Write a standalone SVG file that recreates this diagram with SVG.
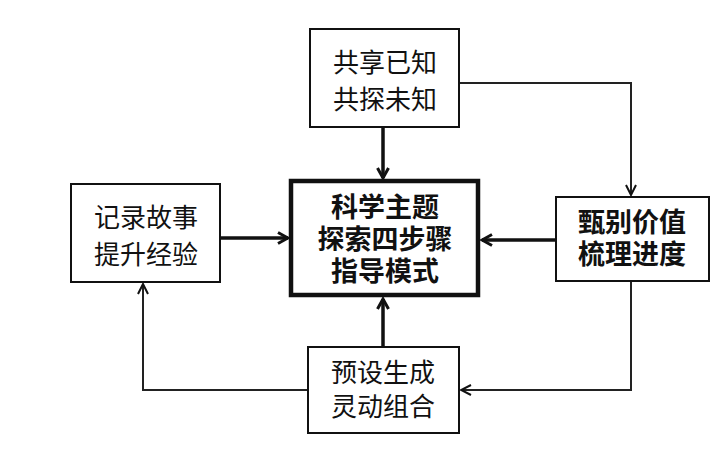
<svg xmlns="http://www.w3.org/2000/svg" width="723" height="451" viewBox="0 0 723 451">
<defs>
<style>
.box{fill:#fff;stroke:#111;stroke-width:2}
.main{fill:#fff;stroke:#111;stroke-width:4.5}
.t{font-family:"Liberation Sans","Noto Sans CJK SC",sans-serif;font-size:26px;fill:#111;text-anchor:middle;dominant-baseline:central}
.b{font-weight:bold;font-size:27px}
.thin{fill:none;stroke:#222;stroke-width:2}
.thick{fill:none;stroke:#111;stroke-width:3.5}
</style>
<marker id="ah" viewBox="0 0 12 12" refX="11" refY="6" markerWidth="12" markerHeight="12" markerUnits="userSpaceOnUse" orient="auto">
<path d="M1,1 L11,6 L1,11" fill="none" stroke="#111" stroke-width="2"/>
</marker>
<marker id="ahb" viewBox="0 0 14 14" refX="12" refY="7" markerWidth="14" markerHeight="14" markerUnits="userSpaceOnUse" orient="auto">
<path d="M2,1.5 L12,7 L2,12.5" fill="none" stroke="#111" stroke-width="3"/>
</marker>
</defs>
<rect width="723" height="451" fill="#fff"/>
<g id="connectors">
<path class="thick" d="M383,128 V178" marker-end="url(#ahb)"/>
<path class="thick" d="M221,238 H288" marker-end="url(#ahb)"/>
<path class="thick" d="M555,240 H482" marker-end="url(#ahb)"/>
<path class="thick" d="M383,346 V299" marker-end="url(#ahb)"/>
<path class="thin" d="M460,83 H631 V195" marker-end="url(#ah)"/>
<path class="thin" d="M631,282 V390 H461" marker-end="url(#ah)"/>
<path class="thin" d="M307,390 H143 V284" marker-end="url(#ah)"/>
</g>
<g id="node-top">
<rect class="box" x="310" y="29" width="149" height="98"/>
<text class="t"><tspan x="385" y="63">共享已知</tspan><tspan x="385" y="100">共探未知</tspan></text>
</g>
<g id="node-center">
<rect class="main" x="291" y="181" width="187" height="114"/>
<text class="t b"><tspan x="385" y="208">科学主题</tspan><tspan x="385" y="240">探索四步骤</tspan><tspan x="385" y="272">指导模式</tspan></text>
</g>
<g id="node-left">
<rect class="box" x="71" y="184" width="149" height="98"/>
<text class="t"><tspan x="146" y="218">记录故事</tspan><tspan x="146" y="255">提升经验</tspan></text>
</g>
<g id="node-right">
<rect class="box" x="556" y="197" width="153" height="84"/>
<text class="t b"><tspan x="632" y="223">甄别价值</tspan><tspan x="632" y="255">梳理进度</tspan></text>
</g>
<g id="node-bottom">
<rect class="box" x="308" y="347" width="151" height="86"/>
<text class="t"><tspan x="383" y="373">预设生成</tspan><tspan x="383" y="407">灵动组合</tspan></text>
</g>
</svg>
